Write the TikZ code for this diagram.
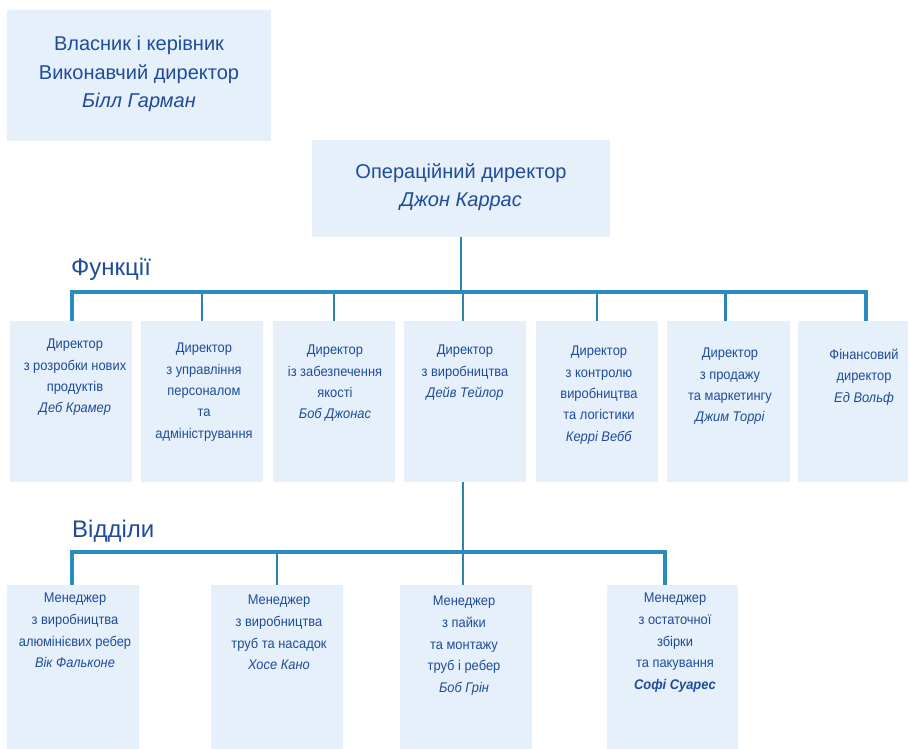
\documentclass[tikz,border=0pt]{standalone}
\usepackage{fontspec}
\setmainfont{Liberation Sans}
\newfontfamily\nfont[FakeStretch=0.92]{Liberation Sans}
\usetikzlibrary{calc}
\definecolor{boxfill}{HTML}{E6F0FA}
\definecolor{txtblue}{HTML}{1E4B9B}
\definecolor{linecol}{HTML}{2A8BBE}
\definecolor{stemcol}{HTML}{2E82AE}
\tikzset{
  box/.style={fill=boxfill, draw=none, inner sep=0pt, anchor=north west},
  bigtxt/.style={text=txtblue, align=center, inner sep=0pt, anchor=north, font=\fontsize{20}{28.5}\selectfont},
  smalltxt/.style={text=txtblue, align=center, inner sep=0pt, anchor=north, font=\nfont\fontsize{14}{21.3}\selectfont},
  lbl/.style={text=txtblue, inner sep=0pt, anchor=north west, font=\fontsize{24}{28}\selectfont},
  busline/.style={draw=linecol, line width=4.5pt},
  stemline/.style={draw=stemcol, line width=2.5pt},
}
\begin{document}
\begin{tikzpicture}[x=1pt,y=-1pt]
\useasboundingbox (0,0) rectangle (910,749);
% top boxes
\node[box, minimum width=264pt, minimum height=131pt] (owner) at (7,10) {};
\node[bigtxt] (ownert) at (139,36) {Власник і керівник\\Виконавчий директор\\\textit{Білл Гарман}};
\node[box, minimum width=298pt, minimum height=97pt] (coo) at (312,140) {};
\node[bigtxt] (coot) at (461,163) {Операційний директор\\\textit{Джон Каррас}};
% labels
\node[lbl] (funcl) at (71,258) {Функції};
\node[lbl] (depl) at (72,520) {Відділи};
% function boxes
\node[box, minimum width=122pt, minimum height=161pt] (f1) at (10,321) {};
\node[box, minimum width=122pt, minimum height=161pt] (f2) at (141,321) {};
\node[box, minimum width=122pt, minimum height=161pt] (f3) at (273,321) {};
\node[box, minimum width=122pt, minimum height=161pt] (f4) at (404,321) {};
\node[box, minimum width=122pt, minimum height=161pt] (f5) at (536,321) {};
\node[box, minimum width=123pt, minimum height=161pt] (f6) at (667,321) {};
\node[box, minimum width=110pt, minimum height=161pt] (f7) at (798,321) {};
\node[smalltxt] (f1t) at (75,339) {Директор\\з розробки нових\\продуктів\\\textit{Деб Крамер}};
\node[smalltxt] (f2t) at (204,343) {Директор\\з управління\\персоналом\\та\\адміністрування};
\node[smalltxt] (f3t) at (335,345) {Директор\\із забезпечення\\якості\\\textit{Боб Джонас}};
\node[smalltxt] (f4t) at (465,345) {Директор\\з виробництва\\\textit{Дейв Тейлор}};
\node[smalltxt] (f5t) at (599,346) {Директор\\з контролю\\виробництва\\та логістики\\\textit{Керрі Вебб}};
\node[smalltxt] (f6t) at (730,348) {Директор\\з продажу\\та маркетингу\\\textit{Джим Торрі}};
\node[smalltxt] (f7t) at (864,349) {Фінансовий\\директор\\\textit{Ед Вольф}};
% manager boxes
\node[box, minimum width=132pt, minimum height=164pt] (m1) at (7,585) {};
\node[box, minimum width=132pt, minimum height=164pt] (m2) at (211,585) {};
\node[box, minimum width=132pt, minimum height=164pt] (m3) at (400,585) {};
\node[box, minimum width=131pt, minimum height=164pt] (m4) at (607,585) {};
\node[smalltxt, font=\nfont\fontsize{14}{21.6}\selectfont] (m1t) at (75,593) {Менеджер\\з виробництва\\алюмінієвих ребер\\\textit{Вік Фальконе}};
\node[smalltxt, font=\nfont\fontsize{14}{21.6}\selectfont] (m2t) at (279,595) {Менеджер\\з виробництва\\труб та насадок\\\textit{Хосе Кано}};
\node[smalltxt, font=\nfont\fontsize{14}{21.6}\selectfont] (m3t) at (464,596) {Менеджер\\з пайки\\та монтажу\\труб і ребер\\\textit{Боб Грін}};
\node[smalltxt, font=\nfont\fontsize{14}{21.6}\selectfont] (m4t) at (675,593) {Менеджер\\з остаточної\\збірки\\та пакування\\\textbf{\textit{Софі Суарес}}};
% connectors: level 1
\coordinate (bus1) at (461,292);
\coordinate (f7s) at (866,321);
\draw[stemline] (coo.south) -- (coo.south |- bus1);
\draw[stemline] (f2.north) -- (f2.north |- bus1);
\draw[stemline] (f3.north) -- (f3.north |- bus1);
\draw[stemline] ($(f4.north)+(-2,0)$) -- ($(f4.north |- bus1)+(-2,0)$);
\draw[stemline] (f5.north) -- (f5.north |- bus1);
\draw[stemline] ($(f6.north)+(-3,0)$) -- ($(f6.north |- bus1)+(-3,0)$);
\draw[busline] ($(f1.north)+(1,0)$) |- (bus1) -| (f7s);
% connectors: level 2
\coordinate (bus2) at (463,552);
\coordinate (m4s) at (665,585);
\draw[stemline] ($(f4.south)+(-2,0)$) -- ($(f4.south |- bus2)+(-2,0)$);
\draw[stemline] (m2.north) -- (m2.north |- bus2);
\draw[stemline] ($(m3.north)+(-3,0)$) -- ($(m3.north |- bus2)+(-3,0)$);
\draw[busline] ($(m1.north)+(-1,0)$) |- (bus2) -| (m4s);
\end{tikzpicture}
\end{document}
